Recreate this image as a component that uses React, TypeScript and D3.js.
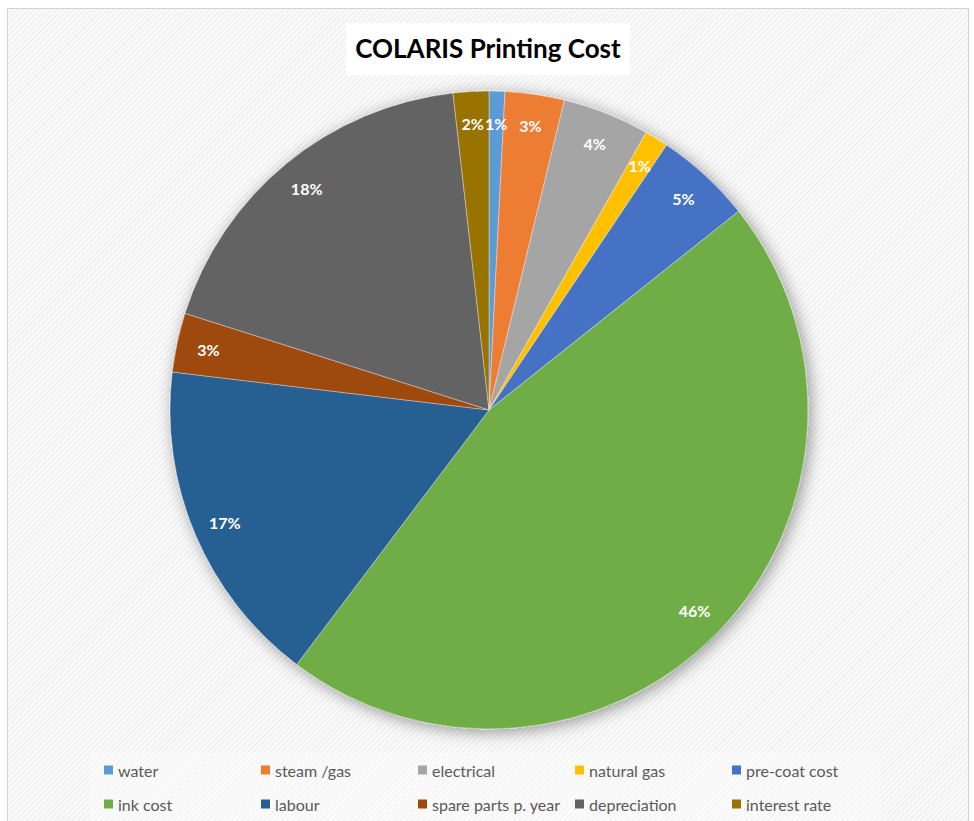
import React from "react";
import * as d3 from "d3";

const categories = ["water", "steam /gas", "electrical", "natural gas", "pre-coat cost", "ink cost", "labour", "spare parts p. year", "depreciation", "interest rate"];
const values = [0.8, 3.0, 4.4, 1.2, 4.9, 46.0, 16.6, 3.0, 18.3, 1.8];
const labels = ["1%", "3%", "4%", "1%", "5%", "46%", "17%", "3%", "18%", "2%"];
const colors = ["#5B9BD5", "#ED7D31", "#A5A5A5", "#FFC000", "#4472C4", "#70AD47", "#255E91", "#9E480E", "#636363", "#997300"];
const title = "COLARIS Printing Cost";

const W = 974;
const H = 821;
const cx = 489;
const cy = 410;
const R = 319;

export default function App() {
  const pie = d3.pie<number>().sort(null).value((d) => d)(values);
  const arc = d3.arc<d3.PieArcDatum<number>>().innerRadius(0).outerRadius(R);
  const labelArc = d3.arc<d3.PieArcDatum<number>>().innerRadius(R * 0.9).outerRadius(R * 0.9);

  const legendX = d3.scalePoint<number>().domain([0, 1, 2, 3, 4]).range([104, 732]);
  const legendY = d3.scalePoint<number>().domain([0, 1]).range([770, 804]);

  return (
    <svg width={W} height={H} style={{ position: "absolute", left: 0, top: 0 }}>
      <defs>
        <pattern id="hatch" width="4" height="4" patternUnits="userSpaceOnUse" patternTransform="rotate(45)">
          <rect width="4" height="4" fill="#f1f1f1" />
          <rect width="2" height="4" fill="#fbfbfb" />
        </pattern>
        <filter id="shadow" x="-20%" y="-20%" width="140%" height="140%">
          <feDropShadow dx="3" dy="3" stdDeviation="8" floodColor="#000" floodOpacity="0.4" />
        </filter>
      </defs>
      <rect x={0} y={0} width={W} height={H} fill="#fff" />
      <rect x={7.5} y={8.5} width={961} height={H} fill="url(#hatch)" stroke="#d4d4d4" strokeWidth={1} />
      <rect x={346} y={23} width={284} height={52} fill="#fff" />
      <text x={488} y={58} textAnchor="middle" fontFamily="Lato, 'Open Sans', sans-serif" fontWeight="bold" fontSize={26} fill="#000">
        {title}
      </text>
      <g transform={`translate(${cx},${cy})`}>
        <g filter="url(#shadow)">
          {pie.map((p, i) => (
            <path key={i} d={arc(p) || ""} fill={colors[i]} stroke="#fff" strokeWidth={0.6} strokeOpacity={0.6} />
          ))}
        </g>
        {pie.map((p, i) => {
          const [lx, ly] = labelArc.centroid(p);
          return (
            <text key={i} x={lx} y={ly} textAnchor="middle" dominantBaseline="central" fontFamily="Lato, 'Open Sans', sans-serif" fontWeight="bold" fontSize={16} fill="#fff">
              {labels[i]}
            </text>
          );
        })}
      </g>
      <rect x={90} y={752} width={790} height={H - 752} fill="#fff" opacity={0.35} />
      {categories.map((c, i) => {
        const col = i % 5;
        const row = Math.floor(i / 5);
        const x = legendX(col) as number;
        const y = legendY(row) as number;
        return (
          <g key={c}>
            <rect x={x} y={y - 4.5} width={9} height={9} fill={colors[i]} />
            <text x={x + 14} y={y} dominantBaseline="central" fontFamily="Lato, 'Open Sans', sans-serif" fontSize={16} fill="#595959">
              {c}
            </text>
          </g>
        );
      })}
    </svg>
  );
}
